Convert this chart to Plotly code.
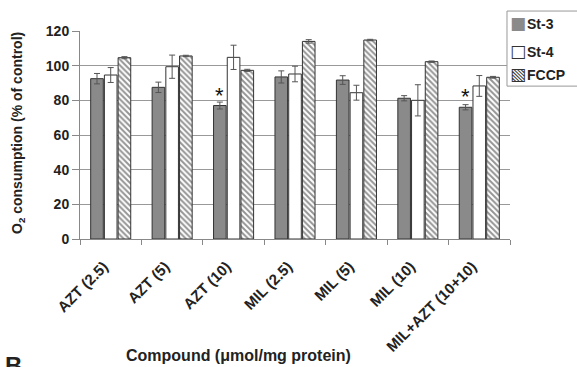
import plotly.graph_objects as go

categories = ["AZT (2.5)", "AZT (5)", "AZT (10)", "MIL (2.5)", "MIL (5)", "MIL (10)", "MIL+AZT (10+10)"]
st3 = [92.5, 87.5, 77, 93.5, 91.7, 81.2, 76]
st3_err = [3, 3, 2, 3.5, 2.5, 1.5, 1.5]
st4 = [94.6, 99.4, 104.8, 95.2, 84.4, 80, 88.3]
st4_err = [4.3, 6.7, 7, 4.5, 4.3, 9, 6]
fccp = [104.6, 105.6, 97.3, 114, 114.8, 102.3, 93.3]
fccp_err = [0.6, 0.4, 0.6, 1, 0.4, 0.4, 0.5]
stars = [("AZT (10)", 83), ("MIL+AZT (10+10)", 82)]
legend_names = ["St-3", "St-4", "FCCP"]
legend_glyphs = ['<span style="color:#8a8a8a">■</span>', "□", "▧"]

font = "Arial, Liberation Sans, sans-serif"
err_style = dict(type="data", thickness=1, width=3, color="#555555")

fig = go.Figure()
fig.add_trace(go.Bar(name=legend_names[0], x=categories, y=st3,
                     error_y=dict(array=st3_err, **err_style),
                     marker=dict(color="#8a8a8a", line=dict(color="#333333", width=1))))
fig.add_trace(go.Bar(name=legend_names[1], x=categories, y=st4,
                     error_y=dict(array=st4_err, **err_style),
                     marker=dict(color="white", line=dict(color="#333333", width=1))))
fig.add_trace(go.Bar(name=legend_names[2], x=categories, y=fccp,
                     error_y=dict(array=fccp_err, **err_style),
                     marker=dict(color="white", line=dict(color="#333333", width=1),
                                 pattern=dict(shape="\\", fgcolor="#2a2a2a", bgcolor="white",
                                              size=4, solidity=0.5))))

for cat, yv in stars:
    fig.add_annotation(x=cat, y=yv, text="*", showarrow=False, xshift=-14,
                       font=dict(family=font, size=22, color="#111111"))

# custom legend box (matches reference layout)
fig.add_shape(type="rect", xref="paper", yref="paper", x0=0.993, x1=1.2, y0=0.735, y1=1.096,
              line=dict(color="#999999", width=1), fillcolor="white", layer="above")
rows_y = [1.033, 0.900, 0.790]
for name, glyph, yy in zip(legend_names, legend_glyphs, rows_y):
    fig.add_annotation(xref="paper", yref="paper", x=0.996, y=yy, text=glyph, showarrow=False,
                       xanchor="left", yanchor="middle", yshift=1,
                       font=dict(family="DejaVu Sans", size=17, color="#333333"))
    fig.add_annotation(xref="paper", yref="paper", x=1.035, y=yy, text="<b>%s</b>" % name,
                       showarrow=False, xanchor="left", yanchor="middle",
                       font=dict(family=font, size=14, color="#222222"))

fig.add_annotation(xref="paper", yref="paper", x=-0.144, y=0.51,
                   text="<b>O<sub>2</sub> consumption (% of control)</b>",
                   textangle=-90, showarrow=False, xanchor="center", yanchor="middle",
                   font=dict(family=font, size=14, color="#222222"))
fig.add_annotation(xref="paper", yref="paper", x=0.369, y=-0.562,
                   text="<b>Compound (μmol/mg protein)</b>",
                   showarrow=False, xanchor="center", yanchor="middle",
                   font=dict(family=font, size=16, color="#222222"))
fig.add_annotation(xref="paper", yref="paper", x=-0.178, y=-0.535, text="<b>B</b>",
                   showarrow=False, xanchor="left", yanchor="top",
                   font=dict(family=font, size=24, color="#222222"))

fig.update_layout(
    width=577, height=367,
    margin=dict(l=80, r=67, t=31, b=128, autoexpand=False),
    paper_bgcolor="white", plot_bgcolor="white",
    barmode="group", bargap=0.33, bargroupgap=0.08,
    font=dict(family=font, color="#222222"),
    showlegend=False,
    xaxis=dict(tickangle=-45, tickfont=dict(family=font, size=15, color="#222222"),
               tickvals=categories, ticktext=["<b>%s</b>" % c for c in categories],
               ticklabelstandoff=12, ticklabelshift=-7,
               showline=True, linecolor="#888888", ticks="outside", tickson="boundaries",
               tickcolor="#888888", ticklen=5, showgrid=False),
    yaxis=dict(range=[0, 120], dtick=20, showgrid=True, gridcolor="#999999", gridwidth=1,
               showline=True, linecolor="#888888", ticks="outside", tickcolor="#888888", ticklen=7,
               tickprefix="<b>", ticksuffix="</b>",
               tickfont=dict(family=font, size=14, color="#222222"), zeroline=False),
)
fig.write_html("out.html", config={"displayModeBar": False},
               post_script="document.body.style.margin='0';document.body.style.overflow='hidden';")
